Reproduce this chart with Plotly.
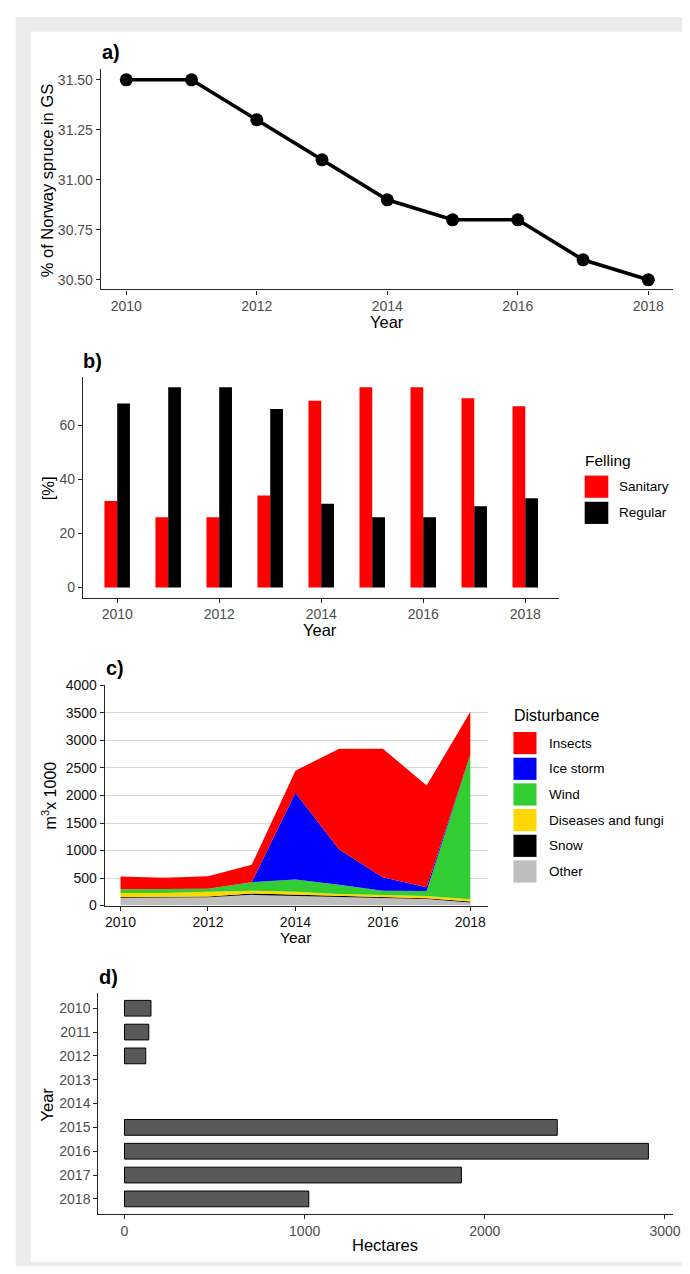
import plotly.graph_objects as go

# ---------------------------------------------------------------- data
years = [2010, 2011, 2012, 2013, 2014, 2015, 2016, 2017, 2018]

# a) share of Norway spruce in growing stock (%)
spruce_share = [31.5, 31.5, 31.3, 31.1, 30.9, 30.8, 30.8, 30.6, 30.5]

# b) felling type (%)
sanitary = [32, 26, 26, 34, 69, 74, 74, 70, 67]
regular = [68, 74, 74, 66, 31, 26, 26, 30, 33]

# c) disturbance volumes (m3 x 1000), stacked bottom to top
other = [140, 140, 150, 195, 175, 160, 140, 120, 55]
snow = [15, 15, 15, 25, 25, 15, 15, 15, 20]
diseases = [75, 75, 85, 50, 50, 35, 35, 40, 40]
wind = [65, 65, 55, 155, 225, 170, 80, 90, 2625]
ice_storm = [0, 0, 0, 0, 1575, 640, 245, 70, 5]
insects = [235, 210, 230, 315, 400, 1830, 2335, 1845, 775]

# d) affected area (hectares); no record for 2013 and 2014
hectares = [147, 135, 118, None, None, 2402, 2908, 1870, 1023]

felling_names = ["Sanitary", "Regular"]
felling_colors = ["#ff0000", "#000000"]

dist_names = ["Other", "Snow", "Diseases and fungi", "Wind", "Ice storm", "Insects"]
dist_values = [other, snow, diseases, wind, ice_storm, insects]
dist_colors = ["#bebebe", "#000000", "#ffd700", "#32cd32", "#0000ff", "#ff0000"]

# ---------------------------------------------------------------- helpers
W, H = 690, 1274
FONT = "Liberation Sans, Arial, sans-serif"
TICK_GREY = "#4d4d4d"
AXIS = "#262626"


def fx(px):
    return px / W


def fy(py):
    return 1 - py / H


fig = go.Figure()

# ---------------------------------------------------------------- a) line
fig.add_trace(go.Scatter(
    x=years, y=spruce_share, mode="lines+markers",
    line=dict(color="black", width=3.6),
    marker=dict(color="black", size=13),
    xaxis="x", yaxis="y", showlegend=False,
))

# ---------------------------------------------------------------- b) bars
fig.add_trace(go.Bar(
    x=years, y=sanitary, name=felling_names[0], width=0.25, offset=-0.25,
    marker=dict(color=felling_colors[0], line=dict(width=0)),
    xaxis="x2", yaxis="y2", showlegend=False,
))
fig.add_trace(go.Bar(
    x=years, y=regular, name=felling_names[1], width=0.25, offset=0,
    marker=dict(color=felling_colors[1], line=dict(width=0)),
    xaxis="x2", yaxis="y2", showlegend=False,
))

# ---------------------------------------------------------------- c) stacked area
for name, vals, col in zip(dist_names, dist_values, dist_colors):
    fig.add_trace(go.Scatter(
        x=years, y=vals, name=name, mode="lines",
        stackgroup="dist", line=dict(width=0, color=col),
        fillcolor=col, xaxis="x3", yaxis="y3", showlegend=False,
    ))

# ---------------------------------------------------------------- d) horizontal bars
fig.add_trace(go.Bar(
    x=hectares, y=years, orientation="h", width=0.66,
    marker=dict(color="#595959", line=dict(color="black", width=1)),
    xaxis="x4", yaxis="y4", showlegend=False,
))

# ---------------------------------------------------------------- axes
tick_common = dict(
    showline=True, linecolor=AXIS, linewidth=1.2, mirror=False,
    ticks="outside", ticklen=4, tickwidth=1.1, tickcolor=AXIS,
    showgrid=False, zeroline=False,
    tickfont=dict(family=FONT, size=14, color=TICK_GREY),
)

layout_axes = dict(
    xaxis=dict(domain=[fx(102), fx(681)], anchor="y", range=[2009.61, 2018.38],
               tickvals=[2010, 2012, 2014, 2016, 2018], **tick_common),
    yaxis=dict(domain=[fy(285), fy(62)], anchor="x", range=[30.452, 31.553],
               tickvals=[30.5, 30.75, 31.0, 31.25, 31.5], tickformat=".2f", **tick_common),
    xaxis2=dict(domain=[fx(84), fx(566)], anchor="y2", range=[2009.33, 2018.67],
                tickvals=[2010, 2012, 2014, 2016, 2018], **tick_common),
    yaxis2=dict(domain=[fy(597), fy(374)], anchor="x2", range=[-3.7, 77.7],
                tickvals=[0, 20, 40, 60], **tick_common),
    xaxis3=dict(domain=[fx(106), fx(494)], anchor="y3", range=[2009.64, 2018.41],
                tickvals=[2010, 2012, 2014, 2016, 2018],
                **{**tick_common, "tickfont": dict(family=FONT, size=14, color="#111111")}),
    yaxis3=dict(domain=[fy(909), fy(686)], anchor="x3", range=[0, 4000],
                tickvals=list(range(0, 4001, 500)),
                **{**tick_common, "showgrid": True, "gridcolor": "#d9d9d9", "gridwidth": 1,
                   "tickfont": dict(family=FONT, size=14, color="#111111")}),
    xaxis4=dict(domain=[fx(99.5), fx(681)], anchor="y4", range=[-145, 3045],
                tickvals=[0, 1000, 2000, 3000], **tick_common),
    yaxis4=dict(domain=[fy(1221), fy(998)], anchor="x4", range=[2018.62, 2009.38],
                tickvals=years, ticktext=[str(y) for y in years], **tick_common),
)

# ---------------------------------------------------------------- frame
shapes = [
    dict(type="rect", xref="paper", yref="paper", x0=fx(16), x1=1, y0=0, y1=fy(9),
         fillcolor="#ebebeb", line=dict(width=0), layer="below"),
    dict(type="rect", xref="paper", yref="paper", x0=fx(31), x1=1, y0=fy(1270), y1=fy(24),
         fillcolor="white", line=dict(width=0), layer="below"),
]

annotations = []


def text(s, x, y, size, color="black", bold=False, angle=0, xanchor="center"):
    annotations.append(dict(
        text=f"<b>{s}</b>" if bold else s, xref="paper", yref="paper",
        x=fx(x), y=fy(y), xanchor=xanchor, yanchor="middle", textangle=angle,
        showarrow=False, font=dict(family=FONT, size=size, color=color),
    ))


# panel tags
text("a)", 101, 45, 20, bold=True, xanchor="left")
text("b)", 82, 357, 20, bold=True, xanchor="left")
text("c)", 105, 668, 20, bold=True, xanchor="left")
text("d)", 98, 981, 20, bold=True, xanchor="left")

# axis titles
text("% of Norway spruce in GS", 47, 174, 16.5, angle=-90)
text("Year", 392, 318, 16.5)
text("[%]", 48, 486, 16.5, angle=-90)
text("Year", 324, 630, 16.5)
text("m<sup>3</sup>x 1000", 50, 797, 16, angle=-90)
text("Year", 299, 941, 15.5)
text("Year", 48, 1110, 16.5, angle=-90)
text("Hectares", 390, 1253, 16.5)

# legend b) Felling
text("Felling", 590, 458, 15.5, xanchor="left")
for i, (name, col) in enumerate(zip(felling_names, felling_colors)):
    top = 473 + i * 26.5
    shapes.append(dict(type="rect", xref="paper", yref="paper",
                       x0=fx(591), x1=fx(616), y0=fy(top + 23.5), y1=fy(top),
                       fillcolor=col, line=dict(color="white", width=1)))
    text(name, 624, top + 11.8, 13.5, xanchor="left")

# legend c) Disturbance (top of stack listed first)
text("Disturbance", 518, 717, 16, xanchor="left")
for i, (name, col) in enumerate(zip(dist_names[::-1], dist_colors[::-1])):
    top = 732.7 + i * 26
    shapes.append(dict(type="rect", xref="paper", yref="paper",
                       x0=fx(519), x1=fx(543.3), y0=fy(top + 23.5), y1=fy(top),
                       fillcolor=col, line=dict(color="white", width=1)))
    text(name, 553, top + 11.8, 13.5, xanchor="left")

fig.update_layout(
    width=W, height=H, margin=dict(l=0, r=0, t=0, b=0),
    paper_bgcolor="white", plot_bgcolor="rgba(0,0,0,0)",
    barmode="overlay", showlegend=False,
    shapes=shapes, annotations=annotations,
    font=dict(family=FONT),
    **layout_axes,
)

# pin the figure to the page's top-left corner, without page margins or scrollbars
fig.write_html(
    "out.html",
    post_script=(
        "var gd=document.getElementById('{plot_id}');"
        "gd.style.position='fixed';gd.style.left='0px';gd.style.top='0px';"
        "document.documentElement.style.overflow='hidden';"
        "document.body.style.overflow='hidden';"
        "document.body.style.margin='0px';"
    ),
)
